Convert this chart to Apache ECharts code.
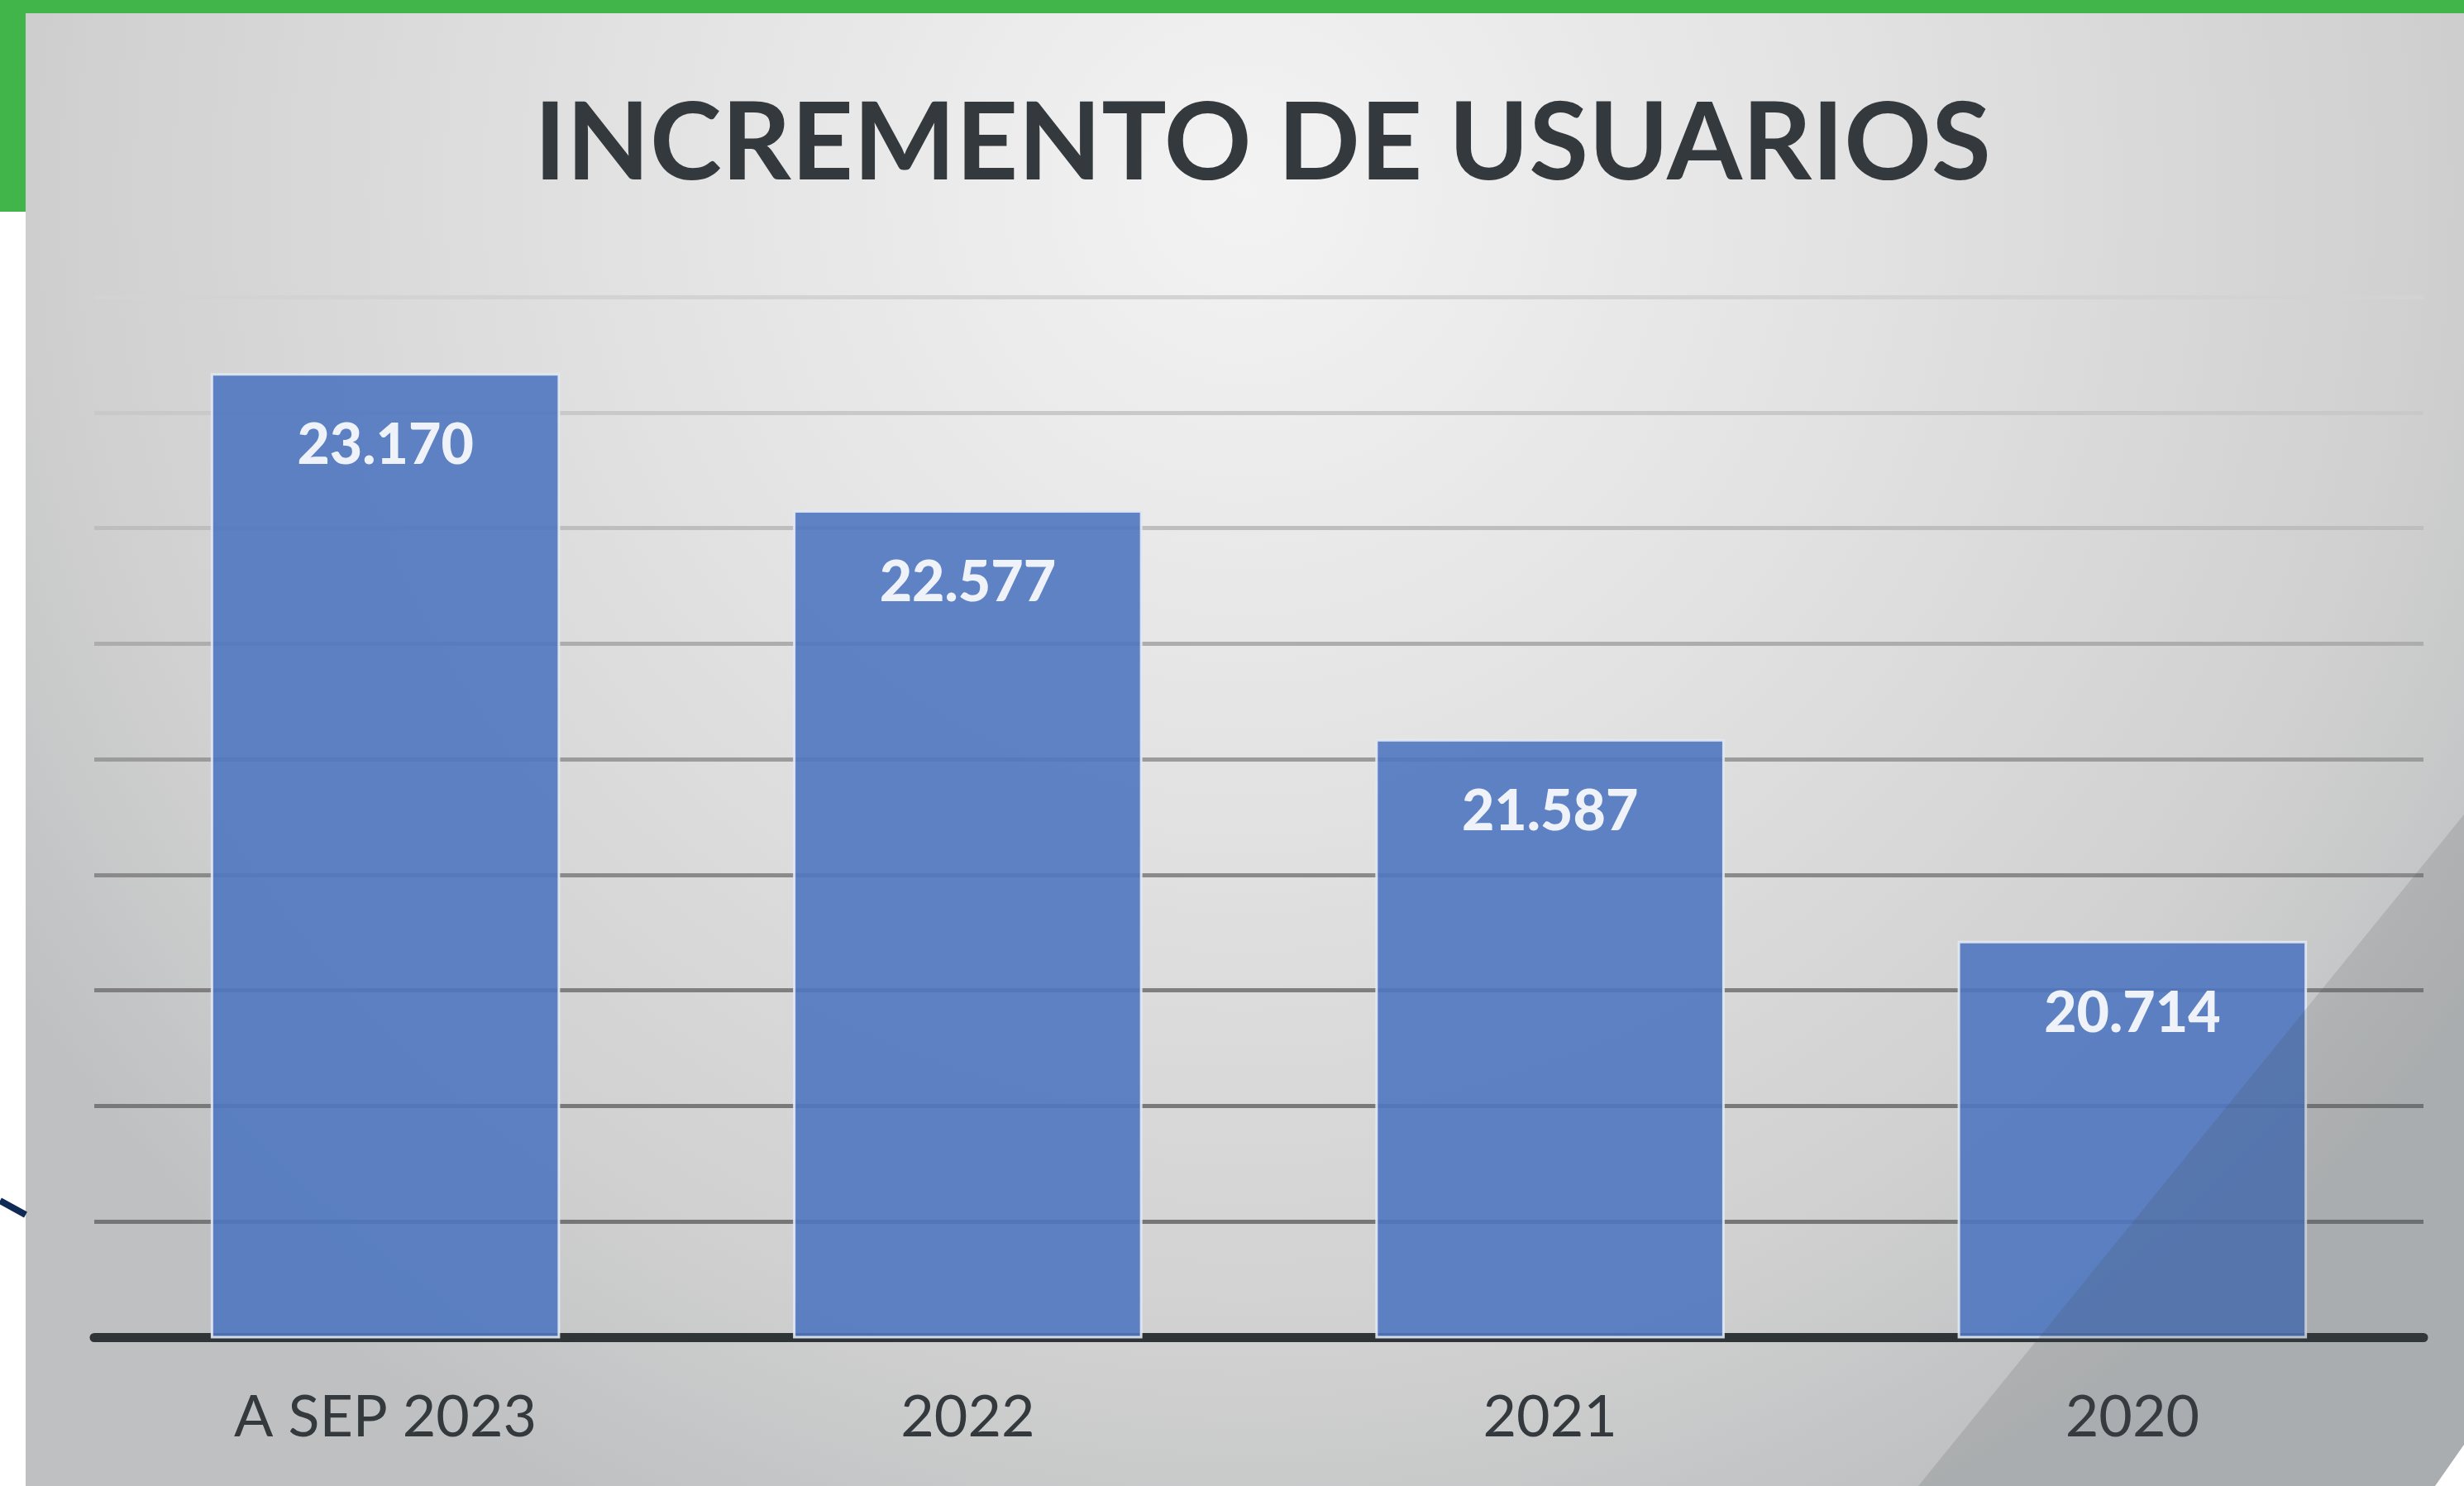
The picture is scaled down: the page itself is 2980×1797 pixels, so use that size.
<!DOCTYPE html>
<html>
<head>
<meta charset="utf-8">
<title>Incremento de usuarios</title>
<script src="https://cdn.jsdelivr.net/npm/echarts@6/dist/echarts.min.js"></script>
<style>
  html, body { margin: 0; padding: 0; background: #ffffff; }
  #chart { width: 2980px; height: 1797px; }
</style>
</head>
<body>
<div id="chart"></div>
<script>
// datos
const categories = ['A SEP 2023', '2022', '2021', '2020'];
const usuarios = [23170, 22577, 21587, 20714];
const yMin = 19000;
const yMax = 23500;
const yStep = 500;
// gridlines: de abajo (19.000) hacia arriba (23.500), más claras arriba
const gridColors = ['#767676', '#767676', '#797979', '#7f7f7f', '#8a8a8a', '#9b9b9b', '#adadad', '#bebebe', '#c9c9c9', '#d3d3d3'];

const fmt = (v) => v.toLocaleString('es-ES', { useGrouping: 'always' }).replace(/\s/g, '.');

const chart = echarts.init(document.getElementById('chart'));

chart.setOption({
  animation: false,
  backgroundColor: '#ffffff',
  title: {
    text: 'INCREMENTO DE USUARIOS',
    left: 1522,
    top: 104,
    textAlign: 'center',
    textStyle: {
      fontFamily: 'Lato',
      fontWeight: 'bold',
      fontSize: 131,
      color: '#33393c',
    },
  },
  grid: { left: 114, right: 49, top: 359, bottom: 180 },
  xAxis: {
    type: 'category',
    data: categories,
    axisTick: { show: false },
    axisLine: { lineStyle: { color: '#2f3436', width: 11 } },
    axisLabel: {
      margin: 62,
      fontFamily: 'Lato',
      fontSize: 70,
      color: '#33393c',
    },
  },
  yAxis: {
    type: 'value',
    min: yMin,
    max: yMax,
    interval: yStep,
    axisLabel: { show: false },
    axisLine: { show: false },
    axisTick: { show: false },
    splitLine: { lineStyle: { color: gridColors, width: 5 } },
  },
  series: [
    {
      type: 'bar',
      data: usuarios,
      barCategoryGap: '40%',
      itemStyle: {
        color: '#4f77bf',
        opacity: 0.9,
        borderColor: '#e3e9f3',
        borderWidth: 3,
      },
      label: {
        show: true,
        position: 'insideTop',
        distance: 54,
        fontFamily: 'Lato',
        fontWeight: 900,
        fontSize: 68,
        color: '#ffffff',
        formatter: (p) => fmt(p.value),
      },
    },
  ],
  graphic: [
    // panel gris de fondo
    {
      type: 'rect',
      z: -10,
      shape: { x: 31, y: 16, width: 2949, height: 1781 },
      style: {
        fill: {
          type: 'radial', x: 0.5, y: 0.12, r: 1.0,
          colorStops: [
            { offset: 0, color: '#f3f3f3' },
            { offset: 0.4, color: '#e3e3e3' },
            { offset: 0.8, color: '#d0d0d0' },
            { offset: 1, color: '#bec0c1' },
          ],
        },
      },
    },
    // franja verde superior y bloque izquierdo
    { type: 'rect', z: 5, shape: { x: 0, y: 0, width: 2980, height: 16 }, style: { fill: '#41b549' } },
    { type: 'rect', z: 5, shape: { x: 0, y: 0, width: 31, height: 256 }, style: { fill: '#41b549' } },
    // línea azul marino a la izquierda
    { type: 'line', z: 5, shape: { x1: 0, y1: 1452, x2: 31, y2: 1469 }, style: { stroke: '#0f2a55', lineWidth: 8 } },
    // banda diagonal oscura abajo a la derecha
    {
      type: 'polygon',
      z: 100,
      shape: { points: [[2320, 1797], [2980, 985], [2980, 1797]] },
      style: { fill: 'rgba(70, 75, 78, 0.16)' },
    },
    // esquina blanca
    {
      type: 'polygon',
      z: 101,
      shape: { points: [[2945, 1797], [2980, 1747], [2980, 1797]] },
      style: { fill: '#ffffff' },
    },
  ],
});
</script>
</body>
</html>
